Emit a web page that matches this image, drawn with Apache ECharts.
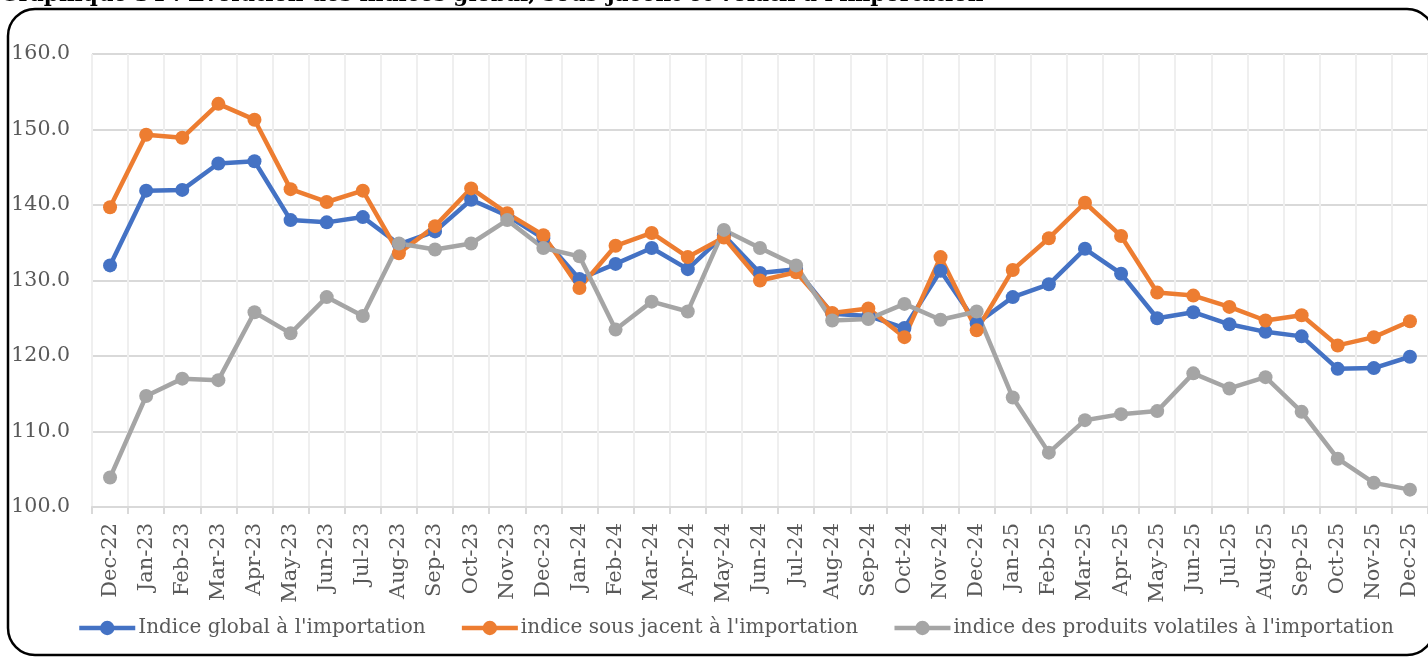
<!DOCTYPE html>
<html>
<head>
<meta charset="utf-8">
<script src="https://cdn.jsdelivr.net/npm/echarts@6/dist/echarts.min.js"></script>
<style>html,body{margin:0;padding:0;background:#fff;}#c{width:1428px;height:657px;}</style>
</head>
<body>
<div id="c"></div>
<script>
const categories = ["Dec-22","Jan-23","Feb-23","Mar-23","Apr-23","May-23","Jun-23","Jul-23","Aug-23","Sep-23","Oct-23","Nov-23","Dec-23",
  "Jan-24","Feb-24","Mar-24","Apr-24","May-24","Jun-24","Jul-24","Aug-24","Sep-24","Oct-24","Nov-24","Dec-24",
  "Jan-25","Feb-25","Mar-25","Apr-25","May-25","Jun-25","Jul-25","Aug-25","Sep-25","Oct-25","Nov-25","Dec-25"];
const globalIdx = [132.0,141.9,142.0,145.5,145.8,138.0,137.7,138.4,134.8,136.5,140.7,138.6,135.6,
  130.2,132.2,134.3,131.5,136.0,131.0,131.5,125.6,125.3,123.7,131.3,124.3,
  127.8,129.5,134.2,130.9,125.0,125.8,124.2,123.2,122.6,118.3,118.4,119.9];
const sousJacent = [139.7,149.3,148.9,153.4,151.3,142.1,140.4,141.9,133.6,137.2,142.2,138.9,136.0,
  129.0,134.6,136.3,133.1,135.7,130.0,131.1,125.7,126.3,122.5,133.1,123.4,
  131.4,135.6,140.3,135.9,128.4,128.0,126.5,124.7,125.4,121.4,122.5,124.6];
const volatils = [103.9,114.7,117.0,116.8,125.8,123.0,127.8,125.3,134.9,134.1,134.9,138.0,134.3,
  133.2,123.5,127.2,125.9,136.7,134.3,132.0,124.7,124.9,126.9,124.8,125.9,
  114.5,107.2,111.5,112.3,112.7,117.7,115.7,117.2,112.6,106.4,103.2,102.3];
const seriesNames = ["Indice global à l'importation","indice sous jacent à l'importation","indice des produits volatiles à l'importation"];
const colors = ["#4472C4","#ED7D31","#A5A5A5"];
const titleText = "Graphique 34 : Evolution des indices global, sous-jacent et volatil à l'importation";

const font = "'DejaVu Serif', serif";
const chart = echarts.init(document.getElementById('c'));
const mk = (name, data, color) => ({
  name, type: 'line', data, symbol: 'circle', symbolSize: 14,
  lineStyle: {width: 4.5, color}, itemStyle: {color}, animation: false
});
chart.setOption({
  animation: false,
  color: colors,
  graphic: [
    {type: 'rect', shape: {x: 8, y: 9, width: 1426, height: 646, r: 27},
     style: {fill: 'none', stroke: '#000', lineWidth: 2.5}, silent: true, z: 0},
    {type: 'text', x: 0, y: 6, style: {text: titleText, font: "bold 21.6px 'DejaVu Serif'", fill: '#000', verticalAlign: 'bottom'}}
  ],
  grid: {left: 92, right: 0, top: 54, bottom: 150, containLabel: false},
  xAxis: {
    type: 'category', data: categories, boundaryGap: true,
    axisLine: {lineStyle: {color: '#d9d9d9', width: 2}},
    axisTick: {show: true, length: 7, lineStyle: {color: '#d9d9d9', width: 2}},
    splitLine: {show: true, lineStyle: {color: '#efefef', width: 2}},
    axisLabel: {rotate: 90, interval: 0, color: '#595959', fontFamily: font, fontSize: 21, margin: 16}
  },
  yAxis: {
    type: 'value', min: 100, max: 160, interval: 10,
    axisLine: {show: false}, axisTick: {show: false},
    splitLine: {lineStyle: {color: '#d9d9d9', width: 2}},
    axisLabel: {formatter: v => v.toFixed(1), color: '#595959', fontFamily: font, fontSize: 20.5, margin: 22}
  },
  legend: {
    bottom: 19, left: 77, padding: 0, itemWidth: 56, itemHeight: 18, itemGap: 34,
    lineStyle: {width: 4.5},
    textStyle: {color: '#595959', fontFamily: font, fontSize: 20, padding: [0, 0, 0, -2]},
    data: seriesNames
  },
  series: [
    mk(seriesNames[0], globalIdx, colors[0]),
    mk(seriesNames[1], sousJacent, colors[1]),
    mk(seriesNames[2], volatils, colors[2])
  ]
});
</script>
</body>
</html>
